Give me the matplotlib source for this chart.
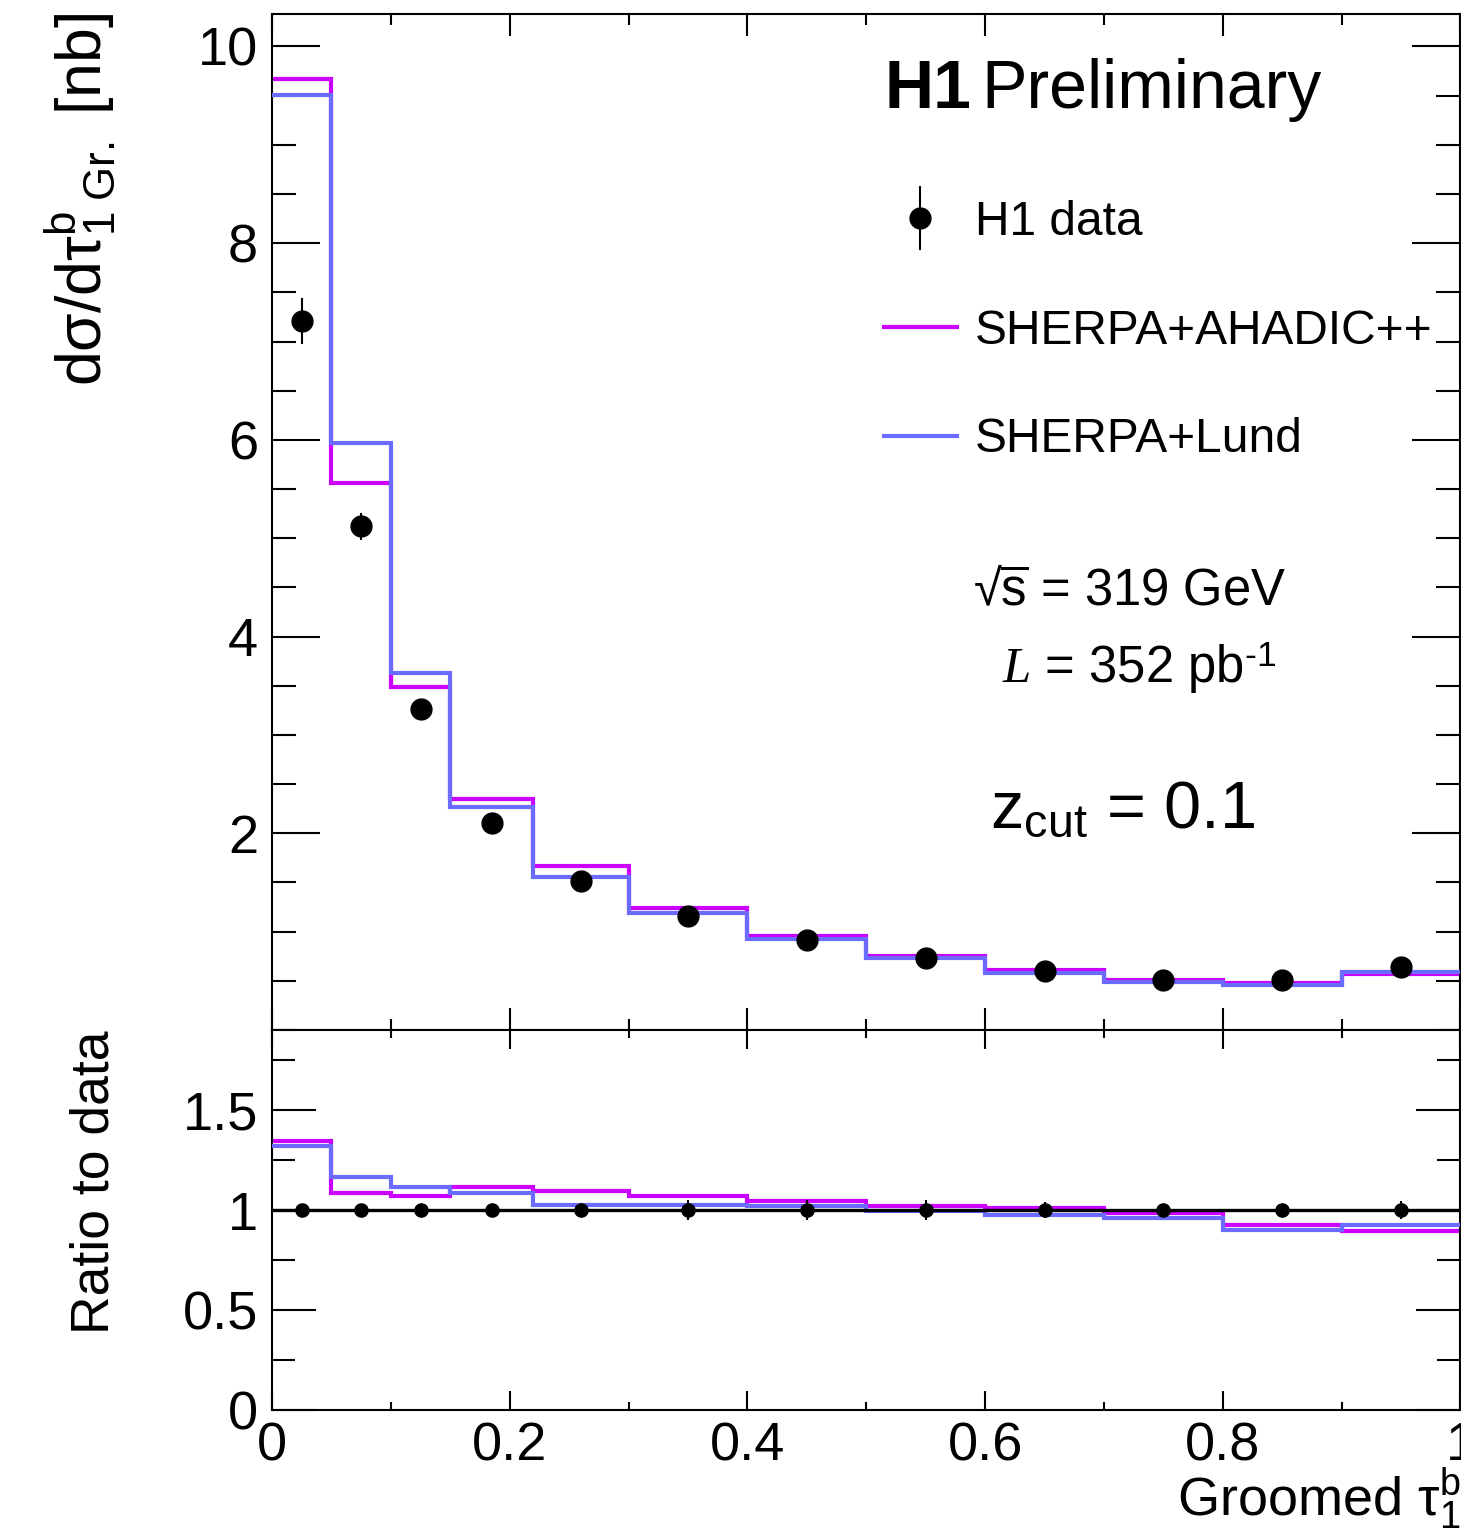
import matplotlib
matplotlib.use("Agg")
import matplotlib.pyplot as plt
from matplotlib.lines import Line2D
from matplotlib.ticker import FixedLocator, MultipleLocator, FuncFormatter
from matplotlib.container import ErrorbarContainer
from matplotlib.legend_handler import HandlerErrorbar

plt.rcParams['font.family'] = ['Liberation Sans', 'DejaVu Sans']
plt.rcParams['mathtext.fontset'] = 'custom'
plt.rcParams['mathtext.rm'] = 'Liberation Sans'
plt.rcParams['mathtext.sf'] = 'Liberation Sans'
plt.rcParams['mathtext.it'] = 'Liberation Serif:italic'
plt.rcParams['mathtext.bf'] = 'Liberation Sans:bold'

# ---------------- data ----------------
bin_edges = [0, 0.05, 0.1, 0.15, 0.22, 0.3, 0.4, 0.5, 0.6, 0.7, 0.8, 0.9, 1.0]
x_data = [0.025, 0.075, 0.125, 0.185, 0.26, 0.35, 0.45, 0.55, 0.65, 0.75, 0.85, 0.95]
data_vals = [7.21, 5.12, 3.26, 2.10, 1.52, 1.16, 0.91, 0.73, 0.60, 0.51, 0.51, 0.64]
data_err = [0.235, 0.14, 0.07, 0.045, 0.035, 0.055, 0.045, 0.037, 0.026, 0.015, 0.015, 0.03]
ahadic_vals = [9.67, 5.56, 3.49, 2.35, 1.665, 1.243, 0.955, 0.752, 0.605, 0.505, 0.475, 0.565]
lund_vals = [9.51, 5.97, 3.63, 2.27, 1.56, 1.19, 0.928, 0.728, 0.584, 0.487, 0.458, 0.59]

ratio_ahadic = [1.343, 1.087, 1.070, 1.117, 1.095, 1.072, 1.045, 1.02, 1.008, 0.985, 0.926, 0.894]
ratio_lund = [1.321, 1.166, 1.114, 1.085, 1.025, 1.027, 1.02, 0.996, 0.973, 0.96, 0.90, 0.924]
ratio_data = [1.0] * 12
ratio_err = [0.03, 0.025, 0.02, 0.02, 0.02, 0.05, 0.05, 0.052, 0.04, 0.025, 0.025, 0.045]

series_names = ['H1 data', 'SHERPA+AHADIC++', 'SHERPA+Lund']
main_yticks = [2, 4, 6, 8, 10]
ratio_yticks = [0, 0.5, 1, 1.5]
xticks = [0, 0.2, 0.4, 0.6, 0.8, 1.0]

C_AHADIC = '#CC00FF'
C_LUND = '#6B6BFF'

W, H = 1461, 1535
def fx(p):
    return p / W
def fy(p):
    return 1 - p / H

fig = plt.figure(figsize=(W / 100, H / 100), dpi=100)
left, right = 272, 1460.5
ax = fig.add_axes([fx(left), fy(1030), fx(right) - fx(left), (1030 - 14) / H])
axr = fig.add_axes([fx(left), fy(1410), fx(right) - fx(left), (1410 - 1030) / H])

# main panel
ax.stairs(ahadic_vals, bin_edges, baseline=None, color=C_AHADIC, lw=3, zorder=2)
ax.stairs(lund_vals, bin_edges, baseline=None, color=C_LUND, lw=3, zorder=3)
eb = ax.errorbar(x_data, data_vals, yerr=data_err, fmt='o', color='black', ms=15,
                 elinewidth=1.5, capsize=0, zorder=5, label=series_names[0])

ax.set_xlim(0, 1)
ax.set_ylim(0, 10.33)

# ratio panel
axr.stairs(ratio_ahadic, bin_edges, baseline=None, color=C_AHADIC, lw=3, zorder=2)
axr.stairs(ratio_lund, bin_edges, baseline=None, color=C_LUND, lw=3, zorder=3)
axr.axhline(1.0, color='black', lw=2.4, zorder=4)
axr.errorbar(x_data, ratio_data, yerr=ratio_err, fmt='o', color='black', ms=9.5,
             elinewidth=1.5, capsize=0, zorder=5)
axr.set_xlim(0, 1)
axr.set_ylim(0, 1.9)

fmt = FuncFormatter(lambda v, p: '%g' % v)
for a in (ax, axr):
    for s in a.spines.values():
        s.set_linewidth(1.5)
    a.tick_params(which='both', direction='in', top=True, right=True, width=1.5,
                  labelsize=39, pad=10)
    a.xaxis.set_major_locator(FixedLocator(xticks))
    a.xaxis.set_minor_locator(MultipleLocator(0.1))
    a.xaxis.set_major_formatter(fmt)

ax.yaxis.set_major_locator(FixedLocator(main_yticks))
ax.yaxis.set_minor_locator(MultipleLocator(0.5))
ax.yaxis.set_major_formatter(fmt)
ax.tick_params(axis='x', which='major', length=16, labelbottom=False)
ax.tick_params(axis='x', which='minor', length=8)
ax.tick_params(axis='y', which='major', length=34.5)
ax.tick_params(axis='y', which='minor', length=17)

axr.yaxis.set_major_locator(FixedLocator(ratio_yticks))
axr.yaxis.set_minor_locator(MultipleLocator(0.25))
axr.yaxis.set_major_formatter(fmt)
axr.tick_params(axis='x', which='major', length=14, pad=8)
axr.tick_params(axis='x', which='minor', length=6)
axr.tick_params(axis='y', which='major', length=32)
axr.tick_params(axis='y', which='minor', length=16.5)

# legend
handles = [eb,
           Line2D([], [], color=C_AHADIC, lw=3),
           Line2D([], [], color=C_LUND, lw=3)]
leg = fig.legend(handles, series_names, loc='upper left',
                 bbox_to_anchor=(fx(884), fy(200)), bbox_transform=fig.transFigure,
                 frameon=False, fontsize=34.5, borderpad=0, borderaxespad=0,
                 handlelength=1.52, handletextpad=0.375, labelspacing=1.33,
                 handler_map={ErrorbarContainer: HandlerErrorbar(yerr_size=0.67)})

# texts
fig.text(fx(884), fy(108), 'H1', fontsize=49, fontweight='bold', ha='left', va='baseline')
fig.text(fx(981), fy(108), 'Preliminary', fontsize=49, ha='left', va='baseline')
fig.text(fx(973), fy(605), '\u221a' + r'$\overline{\mathrm{s}}$ = 319 GeV', fontsize=36.5,
         ha='left', va='baseline')
fig.text(fx(1002), fy(683), r'$L$ = 352 pb$^{\text{-1}}$', fontsize=36.5, ha='left', va='baseline')
fig.text(fx(990), fy(828), r'z$_{\mathrm{cut}}$ = 0.1', fontsize=48, ha='left', va='baseline')

fig.text(fx(117), fy(13), r'd$\mathrm{\sigma}$/d$\mathrm{\tau}^{\mathrm{b}}_{\mathrm{1\ Gr.}}$ [nb]',
         fontsize=45, rotation=90, ha='right', va='top')
fig.text(fx(95), fy(1030), 'Ratio to data', fontsize=38.5, rotation=90, ha='center', va='top')
fig.text(fx(1461), fy(1517), r'Groomed $\mathrm{\tau}^{\mathrm{b}}_{\mathrm{1}}$', fontsize=39,
         ha='right', va='baseline')

fig.savefig('out.png', dpi=100)
